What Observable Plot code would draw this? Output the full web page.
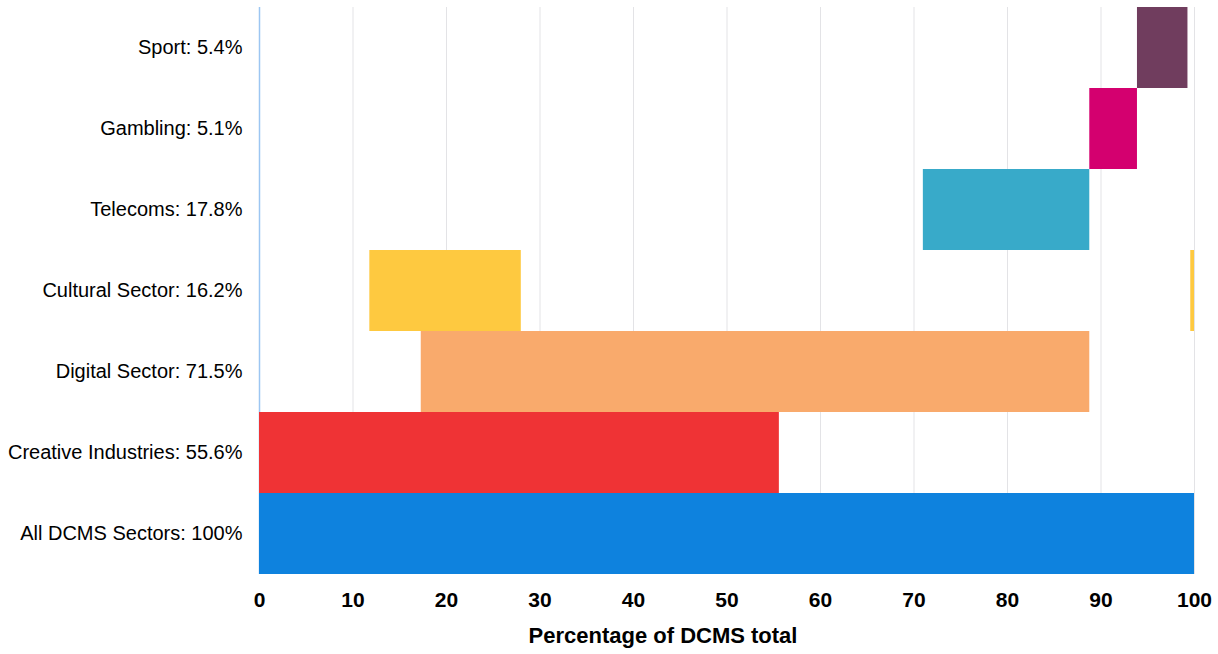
<!DOCTYPE html>
<html>
<head>
<meta charset="utf-8">
<script src="https://cdn.jsdelivr.net/npm/d3@7"></script>
<script src="https://cdn.jsdelivr.net/npm/@observablehq/plot@0.6"></script>
<style>
  html, body { margin: 0; padding: 0; background: #ffffff; }
  #chart svg { display: block; }
</style>
</head>
<body>
<div id="chart"></div>
<script>
// Sectors, top to bottom, with their share of the DCMS total
const sectorNames = ["Sport", "Gambling", "Telecoms", "Cultural Sector", "Digital Sector", "Creative Industries", "All DCMS Sectors"];
const sectorShares = ["5.4", "5.1", "17.8", "16.2", "71.5", "55.6", "100"];
const sectorColors = ["#703d5e", "#d4006f", "#38aac9", "#fec940", "#f9aa6c", "#ef3335", "#0e82de"];

// Bar segments (start / end in % of DCMS total); the Cultural Sector has two
const segmentSector = ["All DCMS Sectors", "Creative Industries", "Digital Sector", "Cultural Sector", "Cultural Sector", "Telecoms", "Gambling", "Sport"];
const segmentStart = [0, 0, 17.3, 11.8, 99.6, 71.0, 88.8, 93.9];
const segmentEnd = [100, 55.6, 88.8, 28.0, 100, 88.8, 93.9, 99.3];

const xTicks = [0, 10, 20, 30, 40, 50, 60, 70, 80, 90, 100];
const xTitle = "Percentage of DCMS total";

const labelOf = new Map(sectorNames.map((n, i) => [n, `${n}: ${sectorShares[i]}%`]));
const colorOf = new Map(sectorNames.map((n, i) => [n, sectorColors[i]]));

const segments = segmentSector.map((s, i) => ({
  sector: labelOf.get(s),
  color: colorOf.get(s),
  x1: segmentStart[i],
  x2: segmentEnd[i]
}));

const font = "'Liberation Sans', Arial, Helvetica, sans-serif";

const chart = Plot.plot({
  width: 1218,
  height: 654,
  marginTop: 7,
  marginBottom: 80,
  marginLeft: 259,
  marginRight: 24,
  style: { fontFamily: font, color: "#000000", background: "#ffffff" },
  x: { domain: [0, 100] },
  y: { domain: sectorNames.map(n => labelOf.get(n)), padding: 0 },
  marks: [
    Plot.gridX(xTicks.filter(t => t > 0), { stroke: "#e3e3e6", strokeOpacity: 1, strokeWidth: 1 }),
    Plot.ruleX([0], { stroke: "#9cc6f2", strokeWidth: 1.5 }),
    Plot.barX(segments, {
      y: "sector",
      x1: "x1",
      x2: "x2",
      fill: "color",
      insetTop: 0,
      insetBottom: 0
    }),
    Plot.axisY({
      tickSize: 0,
      tickPadding: 17,
      fontSize: 20,
      label: null
    }),
    Plot.axisX({
      ticks: xTicks,
      tickFormat: d => String(d),
      tickSize: 0,
      tickPadding: 18,
      fontSize: 21,
      fontWeight: "bold",
      label: null
    }),
    Plot.text([xTitle], {
      text: d => d,
      frameAnchor: "bottom",
      dy: 68,
      dx: -64,
      fontSize: 22,
      fontWeight: "bold",
      fill: "#000000"
    })
  ]
});

document.getElementById("chart").appendChild(chart);
</script>
</body>
</html>
